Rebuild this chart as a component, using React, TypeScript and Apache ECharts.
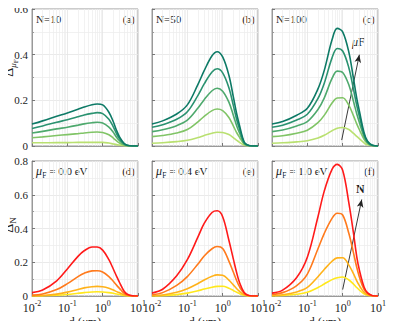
import React, { useEffect, useRef } from "react";
import * as echarts from "echarts";

const FONT = "Liberation Serif";

// thickness d (um) sample points
const D = [0.01, 0.02, 0.05, 0.1, 0.2, 0.3, 0.5, 0.7, 1, 1.5, 2, 2.5, 3, 4, 5, 7, 10];
const MINOR_D = [0.02, 0.03, 0.04, 0.05, 0.06, 0.07, 0.08, 0.09, 0.2, 0.3, 0.4, 0.5, 0.6, 0.7, 0.8, 0.9, 2, 3, 4, 5, 6, 7, 8, 9];

// top row: Delta_muF, curves for increasing mu_F (bottom -> top)
const A1 = [0.096, 0.110, 0.130, 0.145, 0.161, 0.171, 0.181, 0.184, 0.180, 0.148, 0.106, 0.066, 0.040, 0.012, 0.003, 0, 0];
const A2 = [0.077, 0.088, 0.104, 0.115, 0.128, 0.136, 0.143, 0.146, 0.142, 0.117, 0.084, 0.052, 0.032, 0.010, 0.002, 0, 0];
const A3 = [0.057, 0.064, 0.075, 0.082, 0.091, 0.097, 0.102, 0.104, 0.101, 0.083, 0.060, 0.037, 0.023, 0.007, 0.002, 0, 0];
const A4 = [0.036, 0.040, 0.046, 0.050, 0.054, 0.057, 0.060, 0.061, 0.059, 0.049, 0.035, 0.022, 0.013, 0.004, 0.001, 0, 0];
const A5 = [0.014, 0.014, 0.015, 0.015, 0.016, 0.016, 0.016, 0.016, 0.016, 0.013, 0.009, 0.006, 0.004, 0.001, 0, 0, 0];

const B1 = [0.096, 0.110, 0.140, 0.180, 0.270, 0.330, 0.395, 0.413, 0.390, 0.310, 0.216, 0.140, 0.090, 0.020, 0.005, 0, 0];
const B2 = [0.082, 0.093, 0.117, 0.150, 0.222, 0.272, 0.324, 0.338, 0.320, 0.255, 0.178, 0.115, 0.074, 0.017, 0.004, 0, 0];
const B3 = [0.063, 0.071, 0.089, 0.113, 0.166, 0.203, 0.242, 0.253, 0.240, 0.192, 0.135, 0.088, 0.057, 0.013, 0.003, 0, 0];
const B4 = [0.041, 0.046, 0.057, 0.072, 0.106, 0.130, 0.155, 0.162, 0.155, 0.125, 0.088, 0.058, 0.038, 0.009, 0.002, 0, 0];
const B5 = [0.012, 0.014, 0.019, 0.025, 0.037, 0.046, 0.056, 0.060, 0.059, 0.050, 0.037, 0.025, 0.016, 0.004, 0.001, 0, 0];

const C1 = [0.096, 0.107, 0.135, 0.165, 0.250, 0.330, 0.465, 0.515, 0.500, 0.410, 0.300, 0.210, 0.150, 0.060, 0.022, 0.003, 0];
const C2 = [0.082, 0.091, 0.114, 0.139, 0.208, 0.274, 0.386, 0.427, 0.416, 0.342, 0.252, 0.178, 0.127, 0.052, 0.019, 0.002, 0];
const C3 = [0.063, 0.070, 0.088, 0.107, 0.160, 0.210, 0.296, 0.328, 0.322, 0.267, 0.198, 0.141, 0.101, 0.042, 0.016, 0.002, 0];
const C4 = [0.041, 0.045, 0.056, 0.069, 0.102, 0.134, 0.188, 0.210, 0.211, 0.178, 0.134, 0.097, 0.070, 0.030, 0.011, 0.001, 0];
const C5 = [0.012, 0.014, 0.018, 0.023, 0.035, 0.047, 0.067, 0.078, 0.081, 0.072, 0.056, 0.042, 0.031, 0.014, 0.005, 0.001, 0];

// bottom row: Delta_N, curves for increasing N (top -> bottom)
const D1 = [0.020, 0.035, 0.090, 0.160, 0.235, 0.268, 0.290, 0.290, 0.272, 0.215, 0.160, 0.115, 0.080, 0.030, 0.010, 0.001, 0];
const D2 = [0.005, 0.012, 0.038, 0.073, 0.115, 0.135, 0.149, 0.150, 0.142, 0.115, 0.087, 0.063, 0.045, 0.017, 0.006, 0.001, 0];
const D3 = [0.001, 0.003, 0.011, 0.023, 0.039, 0.048, 0.055, 0.057, 0.055, 0.046, 0.035, 0.026, 0.019, 0.007, 0.003, 0, 0];
const D4 = [0, 0.001, 0.004, 0.009, 0.016, 0.020, 0.024, 0.025, 0.024, 0.020, 0.016, 0.012, 0.009, 0.003, 0.001, 0, 0];

const E1 = [0.018, 0.040, 0.120, 0.215, 0.350, 0.430, 0.495, 0.505, 0.470, 0.330, 0.220, 0.136, 0.080, 0.022, 0.006, 0, 0];
const E2 = [0.008, 0.020, 0.063, 0.115, 0.190, 0.237, 0.280, 0.293, 0.282, 0.207, 0.142, 0.090, 0.055, 0.016, 0.004, 0, 0];
const E3 = [0.002, 0.006, 0.022, 0.043, 0.074, 0.095, 0.117, 0.125, 0.123, 0.094, 0.066, 0.043, 0.027, 0.008, 0.002, 0, 0];
const E4 = [0.001, 0.002, 0.008, 0.017, 0.031, 0.041, 0.052, 0.057, 0.058, 0.046, 0.033, 0.022, 0.014, 0.004, 0.001, 0, 0];

const F1 = [0.017, 0.035, 0.110, 0.230, 0.470, 0.620, 0.750, 0.780, 0.745, 0.550, 0.380, 0.234, 0.150, 0.055, 0.020, 0.002, 0];
const F2 = [0.010, 0.020, 0.062, 0.130, 0.280, 0.370, 0.460, 0.490, 0.480, 0.370, 0.260, 0.170, 0.110, 0.040, 0.015, 0.002, 0];
const F3 = [0.003, 0.007, 0.024, 0.051, 0.114, 0.157, 0.206, 0.226, 0.227, 0.183, 0.134, 0.090, 0.060, 0.022, 0.008, 0.001, 0];
const F4 = [0.001, 0.003, 0.010, 0.022, 0.050, 0.071, 0.097, 0.108, 0.113, 0.095, 0.072, 0.050, 0.034, 0.013, 0.005, 0.001, 0];

const GREENS = ["#0d7a66", "#2a9270", "#4ea96d", "#80c466", "#b9e070"];
const WARM = ["#ff1a1a", "#ff7a1c", "#ffb21a", "#ffe81c"];

const PANELS = [
  { curves: [A1, A2, A3, A4, A5], colors: GREENS, ymax: 0.6, tag: "(a)", title: "N=10" },
  { curves: [B1, B2, B3, B4, B5], colors: GREENS, ymax: 0.6, tag: "(b)", title: "N=50" },
  { curves: [C1, C2, C3, C4, C5], colors: GREENS, ymax: 0.6, tag: "(c)", title: "N=100" },
  { curves: [D1, D2, D3, D4], colors: WARM, ymax: 0.8, tag: "(d)", title: "{i|μ}{s|F}{n| = 0.0 eV}" },
  { curves: [E1, E2, E3, E4], colors: WARM, ymax: 0.8, tag: "(e)", title: "{i|μ}{s|F}{n| = 0.4 eV}" },
  { curves: [F1, F2, F3, F4], colors: WARM, ymax: 0.8, tag: "(f)", title: "{i|μ}{s|F}{n| = 1.0 eV}" },
];

const ARROW_C = [[0.94, 0.026], [2.97, 0.40]];
const ARROW_F = [[1.0, 0.038], [3.47, 0.572]];

const LEFTS = [32, 152, 272];
const TOPS = [9, 161];
const W = 106;
const HS = [137, 136];

export default function App() {
  const ref = useRef<HTMLDivElement>(null);
  useEffect(() => {
    const chart = echarts.init(ref.current!, null, { renderer: "svg" });
    const grid: any[] = [];
    const xAxis: any[] = [];
    const yAxis: any[] = [];
    const series: any[] = [];
    const graphic: any[] = [];
    PANELS.forEach((p, i) => {
      const row = Math.floor(i / 3);
      const col = i % 3;
      grid.push({
        left: LEFTS[col], top: TOPS[row], width: W, height: HS[row],
        show: true, borderColor: "#999", borderWidth: 1, backgroundColor: "#fff",
      });
      xAxis.push({
        type: "log", logBase: 10, min: 0.01, max: 10, gridIndex: i,
        axisLine: { show: true, lineStyle: { color: "#999" } },
        axisTick: { show: true, inside: true, length: 3, lineStyle: { color: "#777" } },
        splitLine: { show: true, lineStyle: { color: "#e4e4e4", width: 0.8 } },
        axisLabel: {
          show: row === 1, margin: 3, fontFamily: FONT, fontSize: 12, color: "#222",
          hideOverlap: false,
          formatter: (v: number) => `10{s|${Math.round(Math.log10(v))}}`,
          rich: { s: { fontFamily: FONT, fontSize: 8, color: "#222", padding: [0, 0, 9, 0] } },
        },
        name: row === 1 ? "d ({i|μ}m)" : "",
        nameLocation: "middle", nameGap: 20, nameMoveOverlap: false,
        nameTextStyle: { fontFamily: FONT, fontSize: 12, color: "#222", rich: { i: { fontFamily: FONT, fontStyle: "italic", fontSize: 12, color: "#222" } } },
      });
      const isLeft = col === 0;
      yAxis.push({
        type: "value", min: 0, max: p.ymax, interval: 0.2, gridIndex: i,
        axisLine: { show: true, lineStyle: { color: "#999" } },
        axisTick: { show: true, inside: true, length: 3, lineStyle: { color: "#777" } },
        minorTick: { show: true, splitNumber: 2, length: 2, lineStyle: { color: "#999" } },
        splitLine: { show: true, lineStyle: { color: "#e4e4e4", width: 0.8 } },
        minorSplitLine: { show: true, lineStyle: { color: "#eeeeee", width: 0.8 } },
        axisLabel: {
          show: isLeft, margin: 4, fontFamily: FONT, fontSize: 11, color: "#222",
          formatter: (v: number) => (v === 0 ? "0" : v.toFixed(1)),
        },
      });
      // minor log grid lines
      series.push({
        type: "line", xAxisIndex: i, yAxisIndex: i, data: [[0.01, 0]], showSymbol: false,
        lineStyle: { opacity: 0 }, silent: true, z: 1,
        markLine: {
          silent: true, symbol: ["none", "none"], label: { show: false },
          lineStyle: { color: "#ececec", width: 0.7, type: "solid" },
          data: MINOR_D.map((d) => ({ xAxis: d })),
        },
      });
      p.curves.forEach((vals, k) => {
        series.push({
          type: "line", xAxisIndex: i, yAxisIndex: i, smooth: 0.35, showSymbol: false,
          data: D.map((d, j) => [d, vals[j]]),
          lineStyle: { color: p.colors[k], width: 1.6 },
          itemStyle: { color: p.colors[k] }, z: 3 + (10 - k),
        });
      });
      const top = TOPS[row];
      graphic.push({
        type: "text", left: LEFTS[col] + 4, top: top + 4,
        style: {
          text: p.title, font: `11px ${FONT}`, fill: "#222",
          rich: {
            i: { fontFamily: FONT, fontStyle: "italic", fontSize: 12, fill: "#222" },
            s: { fontFamily: FONT, fontSize: 8, fill: "#222", padding: [8, 0, 0, 0] },
            n: { fontFamily: FONT, fontSize: 11, fill: "#222" },
          },
        },
      });
      graphic.push({
        type: "text", right: 399 - (LEFTS[col] + W) + 3, top: top + 4,
        style: { text: p.tag, font: `11px ${FONT}`, fill: "#222" },
      });
    });
    // y axis titles
    const yTitle = (text: string, y: number, italicSub: boolean) => ({
      type: "text", x: 8, y, rotation: Math.PI / 2,
      style: {
        text, align: "center", verticalAlign: "middle", font: `14px ${FONT}`, fill: "#222",
        rich: {
          d: { fontFamily: FONT, fontSize: 14, fill: "#222" },
          s: { fontFamily: FONT, fontSize: 9, fill: "#222", fontStyle: italicSub ? "italic" : "normal", padding: [9, 0, 0, 0] },
          f: { fontFamily: FONT, fontSize: 7, fill: "#222", padding: [15, 0, 0, 0] },
        },
      },
    });
    graphic.push(yTitle("{d|Δ}{s|μ}{f|F}", 68, true));
    graphic.push(yTitle("{d|Δ}{s|N}", 225, false));
    // arrows
    const arrow = (idx: number, pts: number[][]) => ({
      type: "line", xAxisIndex: idx, yAxisIndex: idx, data: [], showSymbol: false, silent: true, z: 20,
      markLine: {
        silent: true, symbol: ["none", "arrow"], symbolSize: [5, 8], label: { show: false },
        lineStyle: { color: "#222", width: 0.9, type: "solid" },
        data: [[{ coord: pts[0] }, { coord: pts[1] }]],
      },
    });
    series.push(arrow(2, ARROW_C));
    series.push(arrow(5, ARROW_F));
    graphic.push({
      type: "text", left: 352, top: 36,
      style: { text: "{i|μ}F", font: `12px ${FONT}`, fill: "#222", rich: { i: { fontFamily: FONT, fontStyle: "italic", fontSize: 12, fill: "#222" } } },
    });
    graphic.push({
      type: "text", left: 356, top: 183,
      style: { text: "N", font: `bold 12px ${FONT}`, fill: "#222" },
    });
    chart.setOption({ animation: false, grid, xAxis, yAxis, series, graphic });
    return () => chart.dispose();
  }, []);
  return <div ref={ref} style={{ width: 399, height: 329, margin: -8 }} />;
}
